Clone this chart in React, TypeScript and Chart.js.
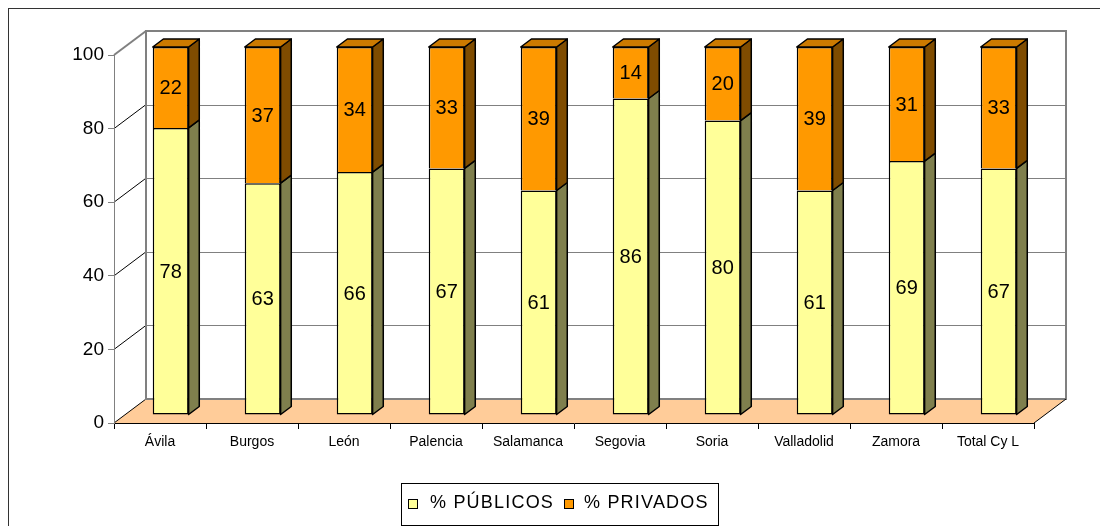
import React, { useEffect, useRef } from "react";
import { Chart, registerables } from "chart.js";

Chart.register(...registerables);

const categories = ["Ávila", "Burgos", "León", "Palencia", "Salamanca", "Segovia", "Soria", "Valladolid", "Zamora", "Total Cy L"];
const publicos = [78, 63, 66, 67, 61, 86, 80, 61, 69, 67];
const privados = [22, 37, 34, 33, 39, 14, 20, 39, 31, 33];
const yTicks = [0, 20, 40, 60, 80, 100];
const seriesNames = ["% PÚBLICOS", "% PRIVADOS"];

const FONT = '"Liberation Sans", Arial, sans-serif';
const FRONT = ["#FFFF99", "#FF9900"];
const SIDE = ["#7F7F4D", "#7F4C00"];
const TOP = ["#CCCC7A", "#CC7A00"];
const FLOOR = "#FFCC99";
const DX = 32;
const DY = -24;
const OX = DX / 3;
const OY = DY / 3;

const threeD = {
  id: "threeD",
  beforeDraw(chart: any) {
    const { ctx, chartArea: a, scales } = chart;
    const y = scales.y;
    const L = a.left, R = a.right, B = a.bottom;
    const yTop = y.getPixelForValue(100);
    ctx.save();
    ctx.fillStyle = FLOOR;
    ctx.beginPath();
    ctx.moveTo(L, B);
    ctx.lineTo(R, B);
    ctx.lineTo(R + DX, B + DY);
    ctx.lineTo(L + DX, B + DY);
    ctx.closePath();
    ctx.fill();
    ctx.strokeStyle = "#808080";
    ctx.lineWidth = 1;
    for (const v of yTicks) {
      const yy = Math.round(y.getPixelForValue(v) + DY) + 0.5;
      ctx.beginPath();
      ctx.moveTo(L + DX, yy);
      ctx.lineTo(R + DX, yy);
      ctx.stroke();
    }
    for (const v of yTicks) {
      const yy = y.getPixelForValue(v);
      ctx.strokeStyle = v === 100 ? "#808080" : "#000";
      ctx.lineWidth = v === 100 ? 2 : 1;
      ctx.beginPath();
      ctx.moveTo(L, yy);
      ctx.lineTo(L + DX, yy + DY);
      ctx.stroke();
    }
    ctx.strokeStyle = "#808080";
    ctx.lineWidth = 2;
    ctx.strokeRect(L + DX, yTop + DY, R - L, B - yTop);
    ctx.strokeStyle = "#000";
    ctx.lineWidth = 1;
    ctx.beginPath();
    ctx.moveTo(R, B);
    ctx.lineTo(R + DX, B + DY);
    ctx.stroke();
    ctx.restore();
  },
  beforeDatasetsDraw(chart: any) {
    const { ctx } = chart;
    ctx.save();
    ctx.strokeStyle = "#000";
    ctx.lineWidth = 1.5;
    ctx.lineJoin = "round";
    const n = chart.data.datasets.length;
    for (let d = 0; d < n; d++) {
      const meta = chart.getDatasetMeta(d);
      meta.data.forEach((el: any) => {
        const w = el.width;
        const l = el.x - w / 2 + OX;
        const r = el.x + w / 2 + OX;
        const t = Math.min(el.y, el.base) + OY;
        const b = Math.max(el.y, el.base) + OY;
        ctx.fillStyle = SIDE[d];
        ctx.beginPath();
        ctx.moveTo(r, t);
        ctx.lineTo(r + OX, t + OY);
        ctx.lineTo(r + OX, b + OY);
        ctx.lineTo(r, b);
        ctx.closePath();
        ctx.fill();
        ctx.stroke();
        if (d === n - 1) {
          ctx.fillStyle = TOP[d];
          ctx.beginPath();
          ctx.moveTo(l, t);
          ctx.lineTo(l + OX, t + OY);
          ctx.lineTo(r + OX, t + OY);
          ctx.lineTo(r, t);
          ctx.closePath();
          ctx.fill();
          ctx.stroke();
        }
      });
    }
    ctx.restore();
    ctx.save();
    ctx.translate(OX, OY);
  },
  afterDatasetsDraw(chart: any) {
    const { ctx } = chart;
    ctx.restore();
    ctx.save();
    ctx.fillStyle = "#000";
    ctx.font = `20px ${FONT}`;
    ctx.textAlign = "center";
    ctx.textBaseline = "middle";
    chart.data.datasets.forEach((ds: any, d: number) => {
      const meta = chart.getDatasetMeta(d);
      meta.data.forEach((el: any, i: number) => {
        ctx.fillText(String(ds.data[i]), el.x + OX, (el.y + el.base) / 2 + OY + 1);
      });
    });
    ctx.restore();
  },
  afterDraw(chart: any) {
    const { ctx } = chart;
    ctx.save();
    ctx.strokeStyle = "#333";
    ctx.lineWidth = 2;
    ctx.beginPath();
    ctx.moveTo(0, chart.height);
    ctx.lineTo(0, 0);
    ctx.lineTo(chart.width, 0);
    ctx.stroke();
    ctx.strokeStyle = "#000";
    ctx.lineWidth = 1;
    ctx.strokeRect(393.5, 475.5, 317, 42);
    const items = [
      { x: 400, tx: 422 },
      { x: 556, tx: 576 },
    ];
    ctx.font = `18px ${FONT}`;
    (ctx as any).letterSpacing = "1.2px";
    ctx.textAlign = "left";
    ctx.textBaseline = "alphabetic";
    items.forEach((it, k) => {
      ctx.fillStyle = FRONT[k];
      ctx.fillRect(it.x + 0.5, 491.5, 9, 9);
      ctx.strokeRect(it.x + 0.5, 491.5, 9, 9);
      ctx.fillStyle = "#000";
      ctx.fillText(seriesNames[k], it.tx, 499.5);
    });
    ctx.restore();
  },
};

export default function App() {
  const ref = useRef<HTMLCanvasElement>(null);
  useEffect(() => {
    document.documentElement.style.overflow = "hidden";
    document.body.style.overflow = "hidden";
    const chart = new Chart(ref.current as HTMLCanvasElement, {
      type: "bar",
      data: {
        labels: categories,
        datasets: [
          { label: seriesNames[0], data: publicos, backgroundColor: FRONT[0], borderColor: "#000", borderWidth: 1.5, borderSkipped: false, clip: false as any },
          { label: seriesNames[1], data: privados, backgroundColor: FRONT[1], borderColor: "#000", borderWidth: 1.5, borderSkipped: "bottom", clip: false as any },
        ],
      },
      options: {
        responsive: false,
        animation: false,
        events: [],
        layout: { padding: { top: 47, right: 74, left: 0, bottom: 0 } },
        datasets: { bar: { categoryPercentage: 1, barPercentage: 0.39 } },
        plugins: { legend: { display: false }, tooltip: { enabled: false } },
        scales: {
          x: {
            stacked: true,
            offset: true,
            ticks: { color: "#000", font: { family: FONT, size: 14 }, maxRotation: 0, autoSkip: false, padding: 5 },
            grid: { offset: true, drawOnChartArea: false, drawTicks: true, tickLength: 6, color: "#000" },
            border: { display: true, color: "#000", width: 1 },
            afterFit(s: any) { s.height = 103; },
          },
          y: {
            stacked: true,
            min: 0,
            max: 100,
            ticks: { stepSize: 20, color: "#000", font: { family: FONT, size: 19 }, padding: 4 },
            grid: { drawOnChartArea: false, drawTicks: true, tickLength: 6, color: "#808080" },
            border: { display: true, color: "#808080", width: 1 },
            afterFit(s: any) { s.width = 106; },
          },
        },
      },
      plugins: [threeD],
    });
    return () => chart.destroy();
  }, []);
  return (
    <div style={{ width: 1100, height: 518 }}>
      <canvas ref={ref} width={1100} height={518} style={{ display: "block" }} />
    </div>
  );
}
